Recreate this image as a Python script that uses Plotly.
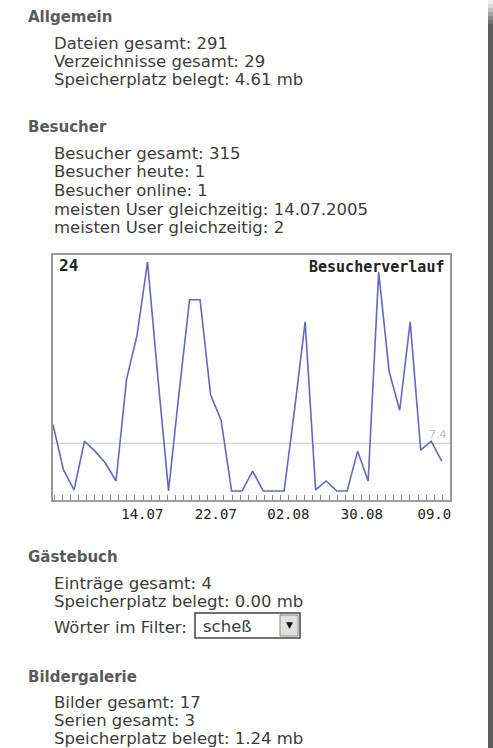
import plotly.graph_objects as go

W, H = 493, 748

# ---- data ----
visitors = [9.1, 5.0, 3.2, 7.6, 6.7, 5.6, 4.0, 13.2, 17.2, 23.8, 13.2, 3.1, 12.0,
            20.4, 20.4, 11.8, 9.5, 3.1, 3.1, 4.9, 3.1, 3.1, 3.1, 10.5, 18.4, 3.2,
            4.0, 3.1, 3.1, 6.7, 4.0, 22.9, 13.9, 10.4, 18.4, 6.8, 7.6, 5.8]
days = list(range(len(visitors)))
tick_labels = ["14.07", "22.07", "02.08", "30.08", "09.0"]
tick_positions = [8.5, 15.5, 22.4, 29.4, 36.3]
average_value = 7.4
average_label = "7.4"
max_label = "24"
chart_title = "Besucherverlauf"

headers = ["Allgemein", "Besucher", "Gästebuch", "Bildergalerie"]
allgemein_lines = ["Dateien gesamt: 291", "Verzeichnisse gesamt: 29",
                   "Speicherplatz belegt: 4.61 mb"]
besucher_lines = ["Besucher gesamt: 315", "Besucher heute: 1", "Besucher online: 1",
                  "meisten User gleichzeitig: 14.07.2005", "meisten User gleichzeitig: 2"]
gaestebuch_lines = ["Einträge gesamt: 4", "Speicherplatz belegt: 0.00 mb",
                    "Wörter im Filter:"]
filter_word = "scheß"
galerie_lines = ["Bilder gesamt: 17", "Serien gesamt: 3", "Speicherplatz belegt: 1.24 mb"]


def px(x):
    return x / W


def py(y):
    return 1 - y / H


fig = go.Figure()
fig.add_trace(go.Scatter(x=days, y=visitors, mode="lines",
                         line=dict(color="#6467c6", width=1.6),
                         hoverinfo="skip", showlegend=False))

BODY = dict(family="DejaVu Sans", size=16.5, color="#3c3c3c")
HEAD = dict(family="DejaVu Sans", size=15, color="#5a5a5a")
MONO = dict(family="DejaVu Sans Mono", size=15, color="#222222")

ann = []


def text(x, y, s, font, anchor="left"):
    ann.append(dict(x=px(x), y=py(y), xref="paper", yref="paper", text=s,
                    showarrow=False, xanchor=anchor, yanchor="middle", font=font))


text(26, 17, "<b>" + headers[0] + "</b>", HEAD)
for i, s in enumerate(allgemein_lines):
    text(52, 43 + i * 18.5, s, BODY)
text(26, 127, "<b>" + headers[1] + "</b>", HEAD)
for i, s in enumerate(besucher_lines):
    text(52, 153 + i * 18.7, s, BODY)
text(26, 557, "<b>" + headers[2] + "</b>", HEAD)
text(52, 583, gaestebuch_lines[0], BODY)
text(52, 601, gaestebuch_lines[1], BODY)
text(52, 627, gaestebuch_lines[2], BODY)
text(201, 626, filter_word, BODY)
text(289, 625, "▼", dict(family="DejaVu Sans", size=9, color="#111111"), anchor="center")
text(26, 677, "<b>" + headers[3] + "</b>", HEAD)
for i, s in enumerate(galerie_lines):
    text(52, 702 + i * 18.0, s, BODY)

# chart inner texts
text(57, 265, "<b>" + max_label + "</b>", dict(family="DejaVu Sans Mono", size=16,
                                                 color="#222222"))
text(446, 267, "<b>" + chart_title + "</b>", MONO, anchor="right")
ann.append(dict(x=37.7, y=average_value, xref="x", yref="y", text=average_label,
                showarrow=False, xanchor="right", yanchor="bottom",
                font=dict(family="DejaVu Sans", size=11, color="#c0c0c0")))

shapes = [
    # average line
    dict(type="line", xref="paper", yref="y", x0=px(53), x1=px(450),
         y0=average_value, y1=average_value, line=dict(color="#d4d4d4", width=1.2),
         layer="below"),
    # select box
    dict(type="rect", xref="paper", yref="paper", x0=px(195), x1=px(300),
         y0=py(638), y1=py(613), line=dict(color="#444444", width=1.5),
         fillcolor="white"),
    dict(type="rect", xref="paper", yref="paper", x0=px(280), x1=px(298),
         y0=py(636), y1=py(615), line=dict(color="#888888", width=1),
         fillcolor="#e2e0dc"),
    # right edge bar
    dict(type="rect", xref="paper", yref="paper", x0=px(488), x1=1,
         y0=0, y1=py(24), line=dict(width=0), fillcolor="#5e5e5e"),
]
fade = ["#f0f0f0", "#dadada", "#c0c0c0", "#a4a4a4", "#8a8a8a", "#727272"]
for i, c in enumerate(fade):
    shapes.append(dict(type="rect", xref="paper", yref="paper", x0=px(488), x1=1,
                       y0=py(4 * i + 4), y1=py(4 * i), line=dict(width=0),
                       fillcolor=c))

fig.update_layout(
    width=W, height=H, margin=dict(l=0, r=0, t=0, b=0),
    paper_bgcolor="white", plot_bgcolor="white",
    annotations=ann, shapes=shapes,
    xaxis=dict(domain=[px(53), px(450)], range=[0, 37.79],
               showgrid=False, zeroline=False,
               showline=True, mirror=True, linecolor="#9a9a9a", linewidth=2,
               tickmode="array", tickvals=tick_positions, ticktext=tick_labels,
               ticks="", tickfont=dict(family="DejaVu Sans Mono", size=14,
                                       color="#222222"),
               ticklabelstandoff=0,
               minor=dict(ticks="inside", ticklen=5, tickcolor="#8a8a8a",
                          tickwidth=1, tickmode="linear", tick0=0.1, dtick=0.77,
                          showgrid=False)),
    yaxis=dict(domain=[py(500), py(255)], range=[2.28, 24.45],
               showgrid=False, zeroline=False, showticklabels=False,
               showline=True, mirror=True, linecolor="#9a9a9a", linewidth=2,
               ticks=""),
    font=dict(family="DejaVu Sans"),
)

# remove the default page margin so the 493x748 figure fills the window exactly
fig.write_html("out.html",
               config={"displayModeBar": False},
               post_script="document.body.style.margin='0';"
                           "document.body.style.overflow='hidden';")
